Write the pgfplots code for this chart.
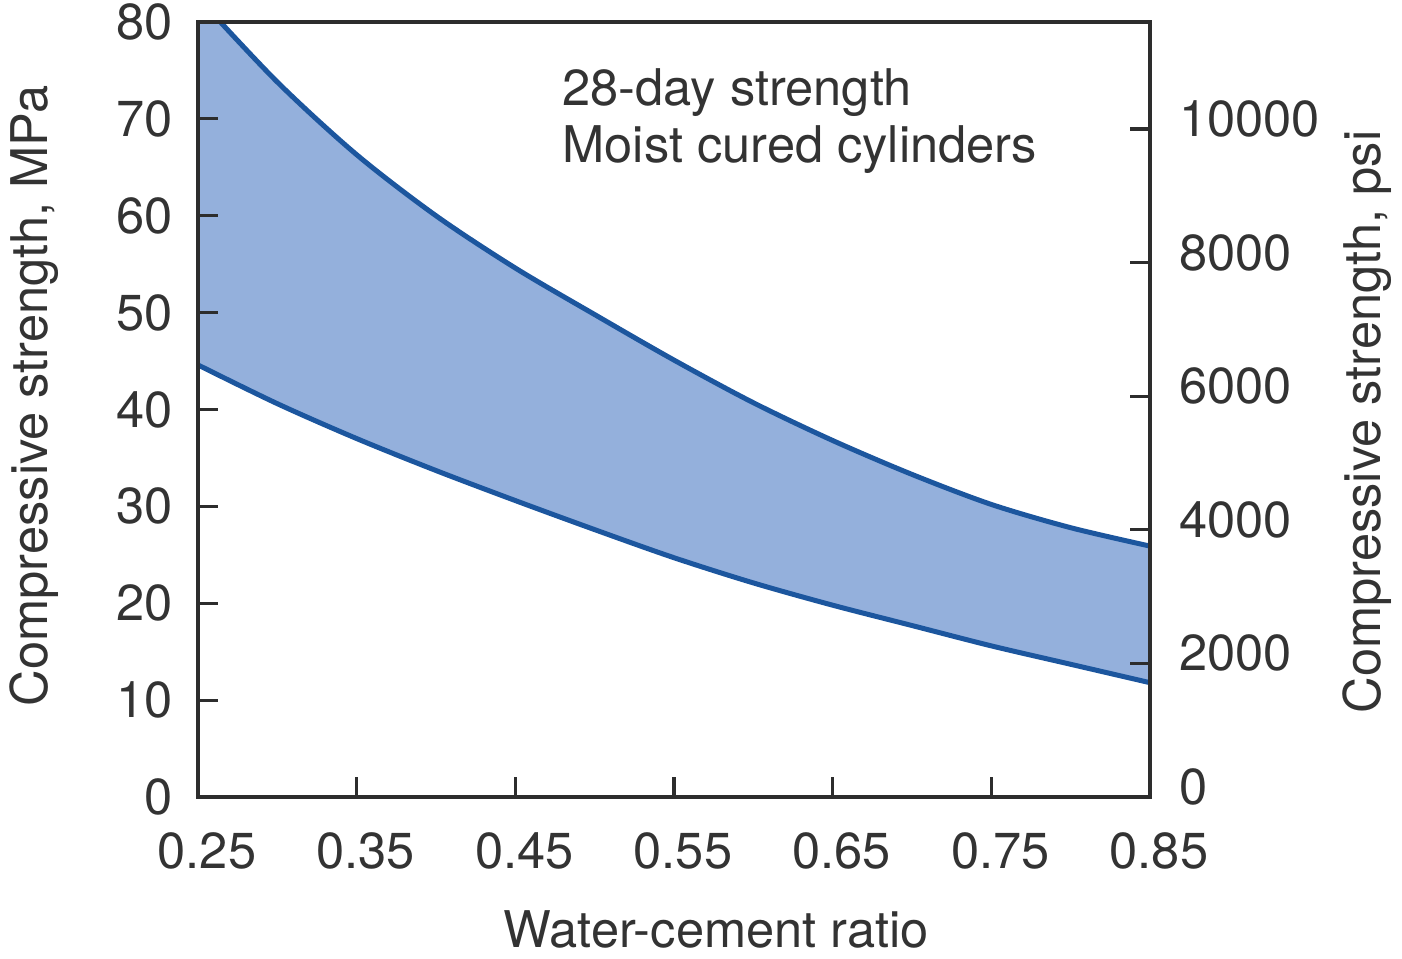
\documentclass[border=0pt]{standalone}
\usepackage{fontspec}
\setmainfont{TeX Gyre Heros}
\usepackage{pgfplots}
\usepackage{pgfplotstable}
\pgfplotsset{compat=1.18}
\usepgfplotslibrary{fillbetween}
\definecolor{bandfill}{RGB}{148,176,220}
\definecolor{bandline}{RGB}{28,86,158}
\definecolor{axgray}{RGB}{45,45,45}
\definecolor{txtgray}{RGB}{51,51,51}

\pgfplotstableread{
x y
0.25 82.5
0.30 73.8
0.35 66.3
0.40 60.0
0.45 54.6
0.50 49.8
0.55 45.1
0.60 40.7
0.65 36.8
0.70 33.3
0.75 30.2
0.80 27.8
0.85 25.9
}\uppertab

\pgfplotstableread{
x y
0.25 44.6
0.30 40.6
0.35 37.0
0.40 33.7
0.45 30.6
0.50 27.6
0.55 24.7
0.60 22.1
0.65 19.8
0.70 17.7
0.75 15.6
0.80 13.7
0.85 11.8
}\lowertab

\begin{document}
\begin{tikzpicture}
\pgfplotsset{
  every axis/.append style={
    scale only axis, width=476pt, height=387.5pt,
    xmin=0.25, xmax=0.85,
    font=\fontsize{25.3}{30}\selectfont,
    axis line style={axgray, line width=1.6pt},
    tick style={axgray, line width=1.6pt},
    tick align=inside,
    major tick length=10pt,
    scaled x ticks=false, scaled y ticks=false,
    /pgf/number format/assume math mode=true,
    /pgf/number format/1000 sep={},
    tick label style={text=txtgray},
    label style={text=txtgray},
  }
}
\begin{axis}[
  at={(0,0)}, anchor=south west,
  ymin=0, ymax=80,
  xtick={0.25,0.35,0.45,0.55,0.65,0.75,0.85},
  ytick={0,10,20,30,40,50,60,70,80},
  xtick pos=bottom, ytick pos=left,
  xticklabel style={anchor=base, inner sep=0pt, yshift=-35.5pt, xshift=4.5pt,
    /pgf/number format/.cd, fixed, fixed zerofill, precision=2},
  yticklabel style={anchor=east, inner sep=0pt, xshift=-12.5pt},
  xlabel={Water-cement ratio},
  xlabel style={at={(axis description cs:0.5445,-0.1948)}, anchor=base},
  ylabel={Compressive strength, MPa},
  ylabel style={at={(axis description cs:-0.1576,0.5174)}, anchor=base},
  axis on top,
]
\addplot[draw=none, name path=U, smooth] table[x=x,y=y]{\uppertab};
\addplot[draw=none, name path=L, smooth] table[x=x,y=y]{\lowertab};
\addplot[bandfill, draw=none] fill between[of=U and L];
\addplot[bandline, line width=2.5pt, smooth] table[x=x,y=y]{\uppertab};
\addplot[bandline, line width=2.5pt, smooth] table[x=x,y=y]{\lowertab};
\addplot[bandline, line width=2.5pt] coordinates {(0.85,11.8) (0.85,25.9)};
\node[anchor=base west, inner sep=0pt, text=txtgray] at (axis cs:0.4796,71.4) {28-day strength};
\node[anchor=base west, inner sep=0pt, text=txtgray] at (axis cs:0.4796,65.45) {Moist cured cylinders};
\coordinate (bl) at (rel axis cs:0,0);
\coordinate (tr) at (rel axis cs:1,1);
\end{axis}
\begin{axis}[
  at={(0,0)}, anchor=south west,
  ymin=0, ymax=11603,
  axis x line=none, axis y line*=right,
  ytick={0,2000,4000,6000,8000,10000},
  ytick pos=right,
  yticklabel style={anchor=west, inner sep=0pt, xshift=14.5pt, yshift=5pt},
  ylabel={Compressive strength, psi},
  ylabel style={at={(axis description cs:1.2426,0.4839)}, anchor=base},
]
\end{axis}
\pgfresetboundingbox
\path[use as bounding box] ([shift={(-99pt,-80.5pt)}]bl) rectangle ([shift={(126pt,11pt)}]tr);
\end{tikzpicture}
\end{document}
